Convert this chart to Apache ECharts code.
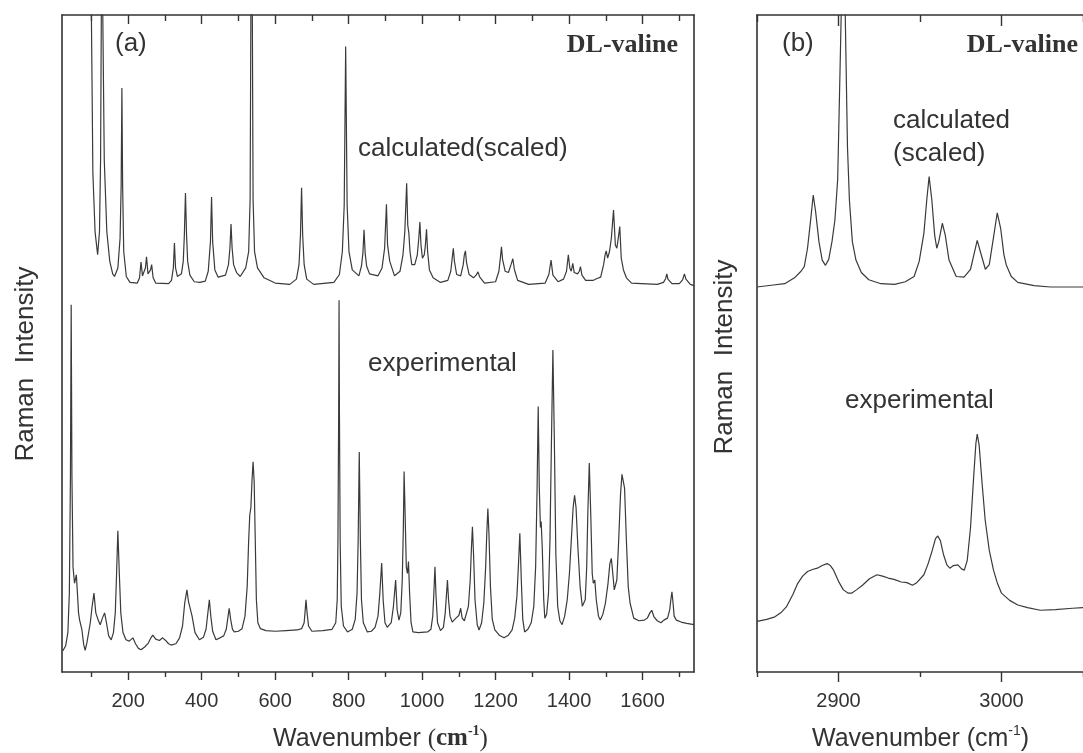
<!DOCTYPE html>
<html>
<head>
<meta charset="utf-8">
<script src="https://cdn.jsdelivr.net/npm/echarts@6/dist/echarts.min.js"></script>
<style>html,body{margin:0;padding:0;background:#fff}#c{width:1083px;height:753px}</style>
</head>
<body>
<div id="c"></div>
<script>
// ---------- data (wavenumber cm-1, intensity in arbitrary units) ----------
const calcA = [
[20,300],[96,400],[100,100],[104,76],[110,67],[117,63.5],[122,67],[125,78],[127,100],[129,400],[131,100],[135,78],[142,67],[150,62.5],[158,60.6],[163,60.2],[172,61.5],[178,66],[181,74],[183,88.9],[185,74],[188,64],[195,60.2],[205,59.3],
[225,59.2],[231,60],[235,62.4],[239,60.3],[243,60.5],[247,61.5],[250,63.2],[254,60.6],[258,60.5],[261,61.2],[264,62.0],[268,60],[275,59.2],
[310,59.1],[318,59.6],[323,61.5],[326,65.3],[329,61.5],[334,60.2],[345,60.6],[350,62.5],[353,66.5],[356,72.9],[359,66.5],[362,62.5],[368,60.4],[380,59.4],[395,59.3],
[410,59.5],[418,61],[424,65.5],[427,72.3],[430,65.5],[436,61.2],[445,60.1],[465,60.4],[473,62],[477,64.5],[480,68.2],[483,64.5],[487,62],[495,60.8],
[505,60.2],[520,61.5],[528,64],[532,72],[534,100],[536,300],[538,100],[540,72],[544,64],[552,61.5],[570,60],[600,59.2],
[640,59.0],[658,59.8],[665,62],[669,66.5],[672,73.7],[675,66.5],[679,62],[686,59.8],[705,59.0],
[760,59.3],[775,60.5],[783,64],[788,71],[792,95.2],[796,71],[801,64],[810,61.2],[828,60.3],[835,61.8],[839,63.8],[842,67.3],[845,63.8],[849,61.8],[857,60.6],
[880,60.3],[891,61.5],[898,64.5],[903,71.2],[906,65],[912,62.5],[925,60.3],[940,61],[948,63.5],[953,67],[958,74.4],[961,68],[964,66.8],[967,64],[972,62],[980,62],[987,63.5],[991,66],[994,68.5],[997,65],[1001,63],[1006,63.5],[1009,65],[1012,67.4],[1015,64],[1020,61.2],[1030,60.0],
[1050,59.3],[1070,59.6],[1078,61],[1082,63],[1085,64.5],[1088,62.5],[1094,60.5],[1105,60.3],[1112,62],[1115,63.5],[1118,64.1],[1121,62.3],[1128,60.5],[1140,60.0],[1147,60.4],[1152,60.9],[1157,60.1],[1170,59.2],
[1200,59.4],[1209,61],[1213,63],[1216,64.7],[1219,62.8],[1226,61],[1235,60.8],[1242,62],[1247,62.9],[1251,61.3],[1260,59.6],[1290,59.0],
[1335,59.2],[1345,60.5],[1351,62.7],[1356,60.4],[1370,59.4],[1385,59.8],[1393,61],[1398,63.5],[1402,61.5],[1406,61],[1410,62.2],[1414,60.8],[1423,60.6],[1428,61],[1431,61.7],[1435,60.4],[1445,59.6],[1465,59.6],[1476,59.9],[1481,60.2],[1486,60.1],
[1494,62],[1498,63.5],[1501,64.1],[1505,63],[1510,64],[1515,66],[1521,70.3],[1526,65],[1530,64.5],[1535,66.5],[1538,67.8],[1542,63],[1548,61.2],[1556,60],[1570,59.2],
[1640,59.0],[1657,59.3],[1663,59.9],[1666,60.6],[1669,59.8],[1680,59.1],[1700,59.1],[1709,59.7],[1714,60.6],[1718,59.8],[1730,59.0],[1740,58.8]
];
const expA = [
[22,3.2],[30,4],[36,6],[40,12],[43,30],[45,55.9],[47,30],[50,16],[54,13.5],[59,14.8],[62,12],[65,9],[68,7.9],[71,8.2],[74,6.5],[79,4.2],[83,3.3],[88,4.5],[97,7.5],[102,10],[107,12.0],[112,9.0],[118,8.0],[124,7.2],[130,8.2],[136,9.0],[141,7.5],[147,5.5],[154,4.9],
[160,6],[165,9],[168,14],[172,21.5],[176,15],[180,9],[186,6],[194,4.9],[203,4.7],[213,5.2],[220,4.3],[228,3.6],[235,3.4],[245,3.8],[255,4.4],[262,5.2],[267,5.6],[275,5.0],[285,4.8],[294,5.2],[302,4.8],[310,4.3],[317,4.1],[330,4.3],
[340,5.2],[348,7],[354,10.5],[360,12.5],[364,10.8],[369,10.5],[374,8.5],[382,6.0],[394,4.9],[405,5.3],[412,6.5],[417,9],[421,11.0],[425,8.5],[430,6.2],[439,4.9],[450,5.2],[460,5.5],[467,6.5],[472,8.5],[475,9.7],[479,8],[484,6.5],[489,6.1],[500,6.2],[510,6.6],
[518,8.5],[524,13],[528,20],[531,23.9],[534,25],[537,29],[540,32.0],[543,29],[546,20],[549,11],[553,7.5],[560,6.6],[575,6.3],[600,6.2],[630,6.3],[660,6.4],[672,6.6],[679,7.5],[682,9.5],[684,11.0],[687,9],[691,7],[700,6.2],[730,6.3],[755,6.5],
[765,7.5],[769,11],[771,20],[773,40],[774,56.6],[775,40],[777,20],[780,10],[786,7],[797,6.1],[810,6.5],[818,8],[823,12],[826,20],[829,33.5],[832,20],[835,11],[840,7.5],[851,6.1],[862,6.2],[872,6.8],[880,8.5],[885,12],[890,16.6],[894,11],[899,7.5],[905,6.8],[910,6.7],
[916,7.5],[922,10],[928,14.0],[932,9.5],[937,7.9],[942,9],[946,14],[949,22],[951,30.5],[953,26],[957,16],[960,15],[963,16.8],[966,12],[970,7.5],[975,6.1],[990,6.0],[1015,6.1],[1024,6.5],[1029,8.5],[1032,12],[1035,16.0],[1038,11.5],[1042,7.5],[1050,6.3],
[1058,6.8],[1063,9],[1066,11.5],[1069,14.0],[1072,11],[1076,8.5],[1082,7.6],[1087,7.4],[1092,8.2],[1100,8.6],[1105,9.7],[1109,8.2],[1115,7.8],[1120,8],[1126,10],[1131,14],[1134,18.5],[1137,22.1],[1140,18],[1144,11],[1150,7.2],[1155,6.4],
[1162,7.5],[1168,10.5],[1173,16],[1176,21],[1179,24.9],[1182,21],[1186,13],[1191,8],[1198,6.4],[1210,5.6],[1223,5.2],[1235,5.6],[1245,6.4],[1252,8.2],[1258,11.5],[1262,16],[1266,21.1],[1270,14],[1274,8],[1279,6.1],[1288,6.5],[1297,7.5],
[1304,10],[1309,16],[1313,28],[1316,40.4],[1319,28],[1322,22],[1324,22.9],[1327,19],[1331,11],[1334,8.2],[1339,8.8],[1344,12],[1348,20],[1352,35],[1356,49.0],[1360,35],[1364,18],[1369,10],[1375,7.8],[1381,7.2],
[1388,8.5],[1395,11],[1401,15],[1406,20],[1411,25],[1415,26.9],[1419,25],[1424,19],[1430,13],[1436,10],[1440,9.7],[1444,11],[1448,16],[1451,24],[1455,31.8],[1459,24],[1463,15],[1466,13.5],[1470,14.0],[1474,11],[1480,8.5],[1485,7.9],
[1492,8.8],[1499,10.5],[1506,13.5],[1511,16.5],[1515,17.3],[1519,15],[1523,12.5],[1526,12.2],[1530,14],[1535,20],[1540,27],[1544,30.1],[1547,30.4],[1551,28],[1556,20],[1561,13],[1566,10.5],[1576,8.2],
[1590,7.8],[1605,7.9],[1613,8.2],[1620,9],[1625,9.4],[1631,8.4],[1640,7.8],[1650,7.5],[1658,7.9],[1668,8.2],[1674,9.5],[1677,11],[1680,12.2],[1683,10.5],[1686,8.5],[1692,7.9],[1705,7.6],[1720,7.4],[1740,7.2]
];
const calcB = [
[2850,58.6],[2860,58.9],[2867,59.1],[2873,60.0],[2877,61.0],[2879,61.7],[2881,64.5],[2883,69],[2884.5,72.6],[2886,70],[2888,65.5],[2890,62.7],[2892,61.9],[2894,62.8],[2896,65.5],[2897.8,68.8],[2899.5,75],[2900.8,90],[2902.5,110],[2904,102],[2905.5,80],[2906.7,71.8],[2908.5,65.5],[2910.7,62.7],[2914,60.8],[2918.6,59.7],[2926,59.1],[2934.5,59.0],
[2941,59.4],[2946.4,60.2],[2949.5,62.5],[2952.4,66.8],[2954.2,72],[2955.6,75.4],[2957.2,72],[2959,66.5],[2960.3,64.5],[2961.5,65.5],[2963.7,68.3],[2965.5,66.5],[2967.8,62.7],[2972.2,60.2],[2977,60.1],[2981,61.3],[2983.5,64],[2985.1,65.7],[2987,64],[2990.1,61.3],[2992.5,62],[2995,66],[2997.4,69.9],[2999.5,67.5],[3001.5,63.5],[3003,61.9],[3006,60.2],[3010,59.3],[3020,58.8],[3030,58.6],[3050,58.6]
];
const expB = [
[2850,7.7],[2856,8.0],[2861,8.4],[2865,9.1],[2868,9.9],[2872,11.8],[2875,13.5],[2878,14.6],[2881,15.3],[2884,15.6],[2887,15.8],[2890,16.2],[2893,16.5],[2895,16.2],[2897,15.5],[2900,13.8],[2903,12.5],[2906,12.0],[2908,12.0],[2911,12.5],[2914.7,13.2],[2919,14.2],[2923.6,14.8],[2927,14.6],[2930.5,14.3],[2934,14.1],[2938.5,13.7],[2942,13.6],[2945.4,13.2],[2948,13.6],
[2952.4,14.8],[2955,16.5],[2957.5,18.5],[2959.5,20.3],[2960.9,20.7],[2962.5,20],[2964.5,17.8],[2966.5,16.3],[2968.3,15.8],[2970.5,16.2],[2973.2,16.3],[2975.5,15.7],[2977.2,15.5],[2979,17],[2981,22],[2983,30],[2984.3,34.8],[2985.1,36.2],[2986.3,34.5],[2988,29],[2990,23.1],[2992.5,18.5],[2995.1,15.5],[2997.5,13.5],[3000,12.0],[3005,10.9],[3010,10.2],[3016,9.8],[3023.8,9.4],[3033,9.5],[3043.6,9.7],[3050,9.8]
];
const ticksAMajor = [200,400,600,800,1000,1200,1400,1600];
const ticksAMinor = [100,300,500,700,900,1100,1300,1500,1700];
const ticksBMajor = [2900,3000];
const ticksBMinor = [2850,2950,3050];
const rangeA = [20,1740];
const rangeB = [2850,3050];

// ---------- chart ----------
const INK = '#3a3a3a', FRAME = '#333';
const SANS = '"Liberation Sans", Arial, sans-serif';
const SERIF = '"Liberation Serif", "Times New Roman", serif';

function xAx(gridIndex, position, range, ticks, tickLen, showLabels, showLine) {
  return {
    type: 'value', gridIndex, position, min: range[0], max: range[1],
    axisLine: {show: showLine, onZero: false, lineStyle: {color: FRAME, width: 1.6}},
    axisTick: {show: true, inside: position === 'top', length: tickLen, customValues: ticks,
               lineStyle: {color: FRAME, width: 1.4}},
    axisLabel: {show: showLabels, customValues: ticks, margin: 19, color: '#333',
                fontSize: 20, fontFamily: SANS, formatter: function (v) { return String(v); }},
    splitLine: {show: false}
  };
}
function yAx(gridIndex, position) {
  return {
    type: 'value', gridIndex, position, min: 0, max: 100,
    axisLine: {show: true, onZero: false, lineStyle: {color: FRAME, width: 1.6}},
    axisTick: {show: false}, axisLabel: {show: false}, splitLine: {show: false}
  };
}
function txt(x, y, text, size, opts) {
  opts = opts || {};
  return {
    type: 'text', x, y, rotation: opts.rot || 0, silent: true,
    style: Object.assign({
      text, fill: '#333', fontSize: size, fontFamily: opts.family || SANS,
      fontWeight: opts.weight || 'normal',
      align: opts.align || 'left', verticalAlign: 'middle',
      textAlign: opts.align || 'left', textVerticalAlign: 'middle'
    }, opts.extra || {})
  };
}
function line(data, xi, yi) {
  return {type: 'line', data, xAxisIndex: xi, yAxisIndex: yi, showSymbol: false, symbol: 'none',
          smooth: false, clip: true, lineStyle: {color: INK, width: 1.2}, silent: true};
}

const chart = echarts.init(document.getElementById('c'), null, {renderer: 'canvas'});
chart.setOption({
  animation: false,
  backgroundColor: '#fff',
  grid: [
    {left: 62, right: 389, top: 15, bottom: 81, containLabel: false},
    {left: 757, right: -11, top: 15, bottom: 81, containLabel: false}
  ],
  xAxis: [
    xAx(0, 'bottom', rangeA, ticksAMajor, 8, true, true),
    xAx(0, 'bottom', rangeA, ticksAMinor, 5, false, false),
    xAx(0, 'top', rangeA, ticksAMajor, 9, false, true),
    xAx(0, 'top', rangeA, ticksAMinor, 6, false, false),
    xAx(1, 'bottom', rangeB, ticksBMajor, 10, true, true),
    xAx(1, 'bottom', rangeB, ticksBMinor, 5, false, false),
    xAx(1, 'top', rangeB, ticksBMajor, 11, false, true),
    xAx(1, 'top', rangeB, ticksBMinor, 7, false, false)
  ],
  yAxis: [yAx(0, 'left'), yAx(0, 'right'), yAx(1, 'left')],
  series: [
    line(calcA, 0, 0), line(expA, 0, 0),
    line(calcB, 4, 2), line(expB, 4, 2)
  ],
  graphic: [
    txt(115, 44, '(a)', 26),
    txt(678, 45, 'DL-valine', 26, {family: SERIF, weight: 'bold', align: 'right'}),
    txt(358, 149, 'calculated(scaled)', 26),
    txt(368, 364, 'experimental', 26),
    txt(26, 364, 'Raman  Intensity', 26, {rot: Math.PI / 2, align: 'center'}),
    txt(782, 44, '(b)', 26),
    txt(1078, 45, 'DL-valine', 26, {family: SERIF, weight: 'bold', align: 'right'}),
    txt(893, 121, 'calculated', 26),
    txt(893, 154, '(scaled)', 26),
    txt(845, 401, 'experimental', 26),
    txt(725, 357, 'Raman  Intensity', 26, {rot: Math.PI / 2, align: 'center'}),
    txt(273, 739, '{a|Wavenumber }{s|(}{b|cm}{c|-1}{s|)}', 25, {extra: {rich: {
      a: {fontSize: 25, fontFamily: SANS, fill: '#333', lineHeight: 30},
      s: {fontSize: 25, fontFamily: SERIF, fill: '#333', lineHeight: 30},
      b: {fontSize: 25, fontFamily: SERIF, fontWeight: 'bold', fill: '#333', lineHeight: 30},
      c: {fontSize: 14, fontFamily: SERIF, fontWeight: 'bold', fill: '#333', verticalAlign: 'top', lineHeight: 30}
    }}}),
    txt(812, 739, '{a|Wavenumber (cm}{c|-1}{a|)}', 25, {extra: {rich: {
      a: {fontSize: 25, fontFamily: SANS, fill: '#333', lineHeight: 30},
      c: {fontSize: 14, fontFamily: SANS, fill: '#333', verticalAlign: 'top', lineHeight: 30}
    }}})
  ]
});
</script>
</body>
</html>
